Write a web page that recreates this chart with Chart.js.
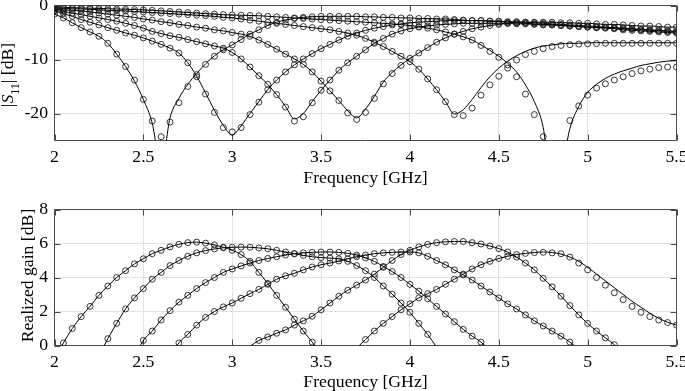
<!DOCTYPE html>
<html>
<head>
<meta charset="utf-8">
<script src="https://cdn.jsdelivr.net/npm/chart.js@4.4.1/dist/chart.umd.min.js"></script>
<style>
  html, body { margin: 0; padding: 0; background: #fff; overflow: hidden; }
  #wrap { position: relative; width: 685px; height: 391px; }
  canvas { position: absolute; left: 0; }
  #s11 { top: 0; }
  #gain { top: 195px; }
</style>
</head>
<body>
<div id="wrap">
  <canvas id="s11" width="685" height="195"></canvas>
  <canvas id="gain" width="685" height="196"></canvas>
</div>
<script>
// frequency grid in GHz, shared by every curve
const freq = [
  2.00, 2.05, 2.10, 2.15, 2.20, 2.25, 2.30, 2.35, 2.40, 2.45,
  2.50, 2.55, 2.60, 2.65, 2.70, 2.75, 2.80, 2.85, 2.90, 2.95,
  3.00, 3.05, 3.10, 3.15, 3.20, 3.25, 3.30, 3.35, 3.40, 3.45,
  3.50, 3.55, 3.60, 3.65, 3.70, 3.75, 3.80, 3.85, 3.90, 3.95,
  4.00, 4.05, 4.10, 4.15, 4.20, 4.25, 4.30, 4.35, 4.40, 4.45,
  4.50, 4.55, 4.60, 4.65, 4.70, 4.75, 4.80, 4.85, 4.90, 4.95,
  5.00, 5.05, 5.10, 5.15, 5.20, 5.25, 5.30, 5.35, 5.40, 5.45,
  5.50
];
const freqTicks = [2, 2.5, 3, 3.5, 4, 4.5, 5, 5.5];
const s11Ticks = [-20, -10, 0];
const gainTicks = [0, 2, 4, 6, 8];

// |S11| in dB, simulated (line) and measured (circles)
const s11A = [
  -1.6, -2.3, -3.2, -4.1, -4.9, -5.7, -7.0, -9.0, -11.3, -14.0,
  -17.4, -21.8, -30, -20.8, -17.2, -14.6, -12.6, -10.8, -9.3, -8.2,
  -7.3, -6.3, -5.3, -4.5, -3.7, -3.1, -2.7, -2.4, -2.2, -2.1,
  -2.0, -2.0, -2.0, -2.0, -2.0, -2.1, -2.1, -2.2, -2.2, -2.3,
  -2.3, -2.4, -2.4, -2.5, -2.5, -2.6, -2.7, -2.8, -2.8, -2.9,
  -3.0, -3.1, -3.2, -3.3, -3.4, -3.5, -3.6, -3.7, -3.8, -3.9,
  -4.0, -4.1, -4.2, -4.3, -4.5, -4.6, -4.7, -4.8, -4.9, -5.0,
  -5.1
];
const s11AMeas = [
  -1.6, -2.3, -3.2, -4.1, -4.9, -5.7, -7.0, -9.0, -11.3, -13.8,
  -17.4, -21.4, -24.3, -21.6, -18.0, -15.0, -12.8, -10.9, -9.4, -8.2,
  -7.3, -6.3, -5.3, -4.5, -3.7, -3.1, -2.7, -2.4, -2.2, -2.1,
  -2.0, -2.0, -2.0, -2.0, -2.0, -2.1, -2.1, -2.2, -2.2, -2.3,
  -2.3, -2.4, -2.4, -2.5, -2.5, -2.6, -2.7, -2.8, -2.8, -2.9,
  -3.0, -3.1, -3.2, -3.3, -3.4, -3.5, -3.6, -3.7, -3.8, -3.9,
  -4.0, -4.1, -4.2, -4.3, -4.5, -4.6, -4.7, -4.8, -4.9, -5.0,
  -5.1
];
const s11B = [
  -1.0, -1.5, -2.0, -2.6, -3.1, -3.6, -4.1, -4.6, -5.1, -5.5,
  -6.0, -6.6, -7.2, -7.9, -8.8, -10.6, -13.1, -16.2, -19.4, -22.2,
  -24.0, -22.3, -20.0, -17.8, -15.6, -13.8, -12.3, -11.0, -9.9, -8.9,
  -8.0, -7.2, -6.4, -5.7, -5.1, -4.6, -4.2, -3.9, -3.6, -3.4,
  -3.2, -3.1, -3.0, -2.9, -2.8, -2.8, -2.8, -2.8, -2.8, -2.9,
  -2.9, -3.0, -3.0, -3.1, -3.2, -3.3, -3.4, -3.5, -3.6, -3.7,
  -3.8, -3.9, -4.0, -4.1, -4.2, -4.3, -4.4, -4.5, -4.6, -4.7,
  -4.8
];
const s11BMeas = [
  -1.0, -1.5, -2.0, -2.6, -3.1, -3.6, -4.1, -4.6, -5.1, -5.5,
  -6.0, -6.6, -7.2, -7.9, -8.8, -10.6, -13.2, -16.4, -19.8, -22.6,
  -23.4, -22.6, -20.2, -17.9, -15.6, -13.8, -12.3, -11.0, -9.9, -8.9,
  -8.0, -7.2, -6.4, -5.7, -5.1, -4.6, -4.2, -3.9, -3.6, -3.4,
  -3.2, -3.1, -3.0, -2.9, -2.8, -2.8, -2.8, -2.8, -2.8, -2.9,
  -2.9, -3.0, -3.0, -3.1, -3.2, -3.3, -3.4, -3.5, -3.6, -3.7,
  -3.8, -3.9, -4.0, -4.1, -4.2, -4.3, -4.4, -4.5, -4.6, -4.7,
  -4.8
];
const s11C = [
  -0.9, -1.1, -1.4, -1.7, -2.0, -2.3, -2.6, -2.9, -3.3, -3.7,
  -4.2, -4.8, -5.2, -5.6, -5.9, -6.3, -6.7, -7.1, -7.5, -7.9,
  -8.7, -9.9, -11.4, -13.0, -14.6, -16.5, -18.7, -21.0, -20.0, -17.8,
  -15.7, -13.8, -12.0, -10.6, -9.4, -8.2, -7.0, -6.1, -5.3, -4.7,
  -4.3, -4.0, -3.8, -3.6, -3.5, -3.4, -3.3, -3.3, -3.3, -3.3,
  -3.3, -3.3, -3.4, -3.4, -3.5, -3.6, -3.6, -3.7, -3.8, -3.9,
  -4.0, -4.1, -4.1, -4.2, -4.3, -4.4, -4.5, -4.6, -4.7, -4.8,
  -4.9
];
const s11CMeas = [
  -0.9, -1.1, -1.4, -1.7, -2.0, -2.3, -2.6, -2.9, -3.3, -3.7,
  -4.2, -4.8, -5.2, -5.6, -5.9, -6.3, -6.7, -7.1, -7.5, -7.9,
  -8.7, -9.9, -11.4, -13.0, -14.6, -16.5, -18.8, -21.4, -20.6, -18.0,
  -15.7, -13.8, -12.0, -10.6, -9.4, -8.2, -7.0, -6.1, -5.3, -4.7,
  -4.3, -4.0, -3.8, -3.6, -3.5, -3.4, -3.3, -3.3, -3.3, -3.3,
  -3.3, -3.3, -3.4, -3.4, -3.5, -3.6, -3.6, -3.7, -3.8, -3.9,
  -4.0, -4.1, -4.1, -4.2, -4.3, -4.4, -4.5, -4.6, -4.7, -4.8,
  -4.9
];
const s11D = [
  -0.7, -0.8, -0.9, -1.0, -1.2, -1.4, -1.6, -1.8, -2.0, -2.2,
  -2.5, -2.7, -3.0, -3.2, -3.5, -3.7, -4.0, -4.2, -4.5, -4.7,
  -5.0, -5.3, -5.7, -6.4, -7.2, -8.1, -9.0, -9.9, -10.9, -12.3,
  -14.0, -15.8, -17.6, -19.5, -20.8, -19.2, -16.8, -14.2, -12.4, -11.0,
  -9.8, -8.8, -7.8, -6.8, -6.0, -5.3, -4.8, -4.3, -4.0, -3.7,
  -3.5, -3.3, -3.2, -3.1, -3.1, -3.1, -3.1, -3.2, -3.2, -3.3,
  -3.3, -3.4, -3.5, -3.5, -3.6, -3.7, -3.8, -3.8, -3.9, -4.0,
  -4.0
];
const s11DMeas = [
  -0.7, -0.8, -0.9, -1.0, -1.2, -1.4, -1.6, -1.8, -2.0, -2.2,
  -2.5, -2.7, -3.0, -3.2, -3.5, -3.7, -4.0, -4.2, -4.5, -4.7,
  -5.0, -5.3, -5.7, -6.4, -7.2, -8.1, -9.0, -9.9, -10.9, -12.3,
  -14.0, -15.8, -17.6, -19.9, -21.1, -19.8, -17.2, -14.5, -12.6, -11.1,
  -9.8, -8.8, -7.8, -6.8, -6.0, -5.3, -4.8, -4.3, -4.0, -3.7,
  -3.5, -3.3, -3.2, -3.1, -3.1, -3.1, -3.1, -3.2, -3.2, -3.3,
  -3.3, -3.4, -3.5, -3.5, -3.6, -3.7, -3.8, -3.8, -3.9, -4.0,
  -4.0
];
const s11E = [
  -0.5, -0.55, -0.6, -0.65, -0.7, -0.8, -0.9, -0.95, -1.0, -1.1,
  -1.2, -1.3, -1.4, -1.5, -1.6, -1.7, -1.8, -1.9, -2.0, -2.2,
  -2.3, -2.5, -2.7, -2.9, -3.1, -3.3, -3.5, -3.7, -3.9, -4.1,
  -4.3, -4.5, -4.8, -5.1, -5.5, -6.1, -6.8, -7.6, -8.5, -9.4,
  -10.4, -11.8, -13.6, -15.6, -17.8, -20.1, -19.3, -17.4, -15.2, -13.2,
  -11.6, -10.3, -9.3, -8.5, -7.9, -7.5, -7.3, -7.1, -7.0, -7.0,
  -6.9, -6.9, -6.9, -6.9, -6.9, -6.9, -6.9, -6.9, -6.9, -6.9,
  -6.9
];
const s11EMeas = [
  -0.5, -0.55, -0.6, -0.65, -0.7, -0.8, -0.9, -0.95, -1.0, -1.1,
  -1.2, -1.3, -1.4, -1.5, -1.6, -1.7, -1.8, -1.9, -2.0, -2.2,
  -2.3, -2.5, -2.7, -2.9, -3.1, -3.3, -3.5, -3.7, -3.9, -4.1,
  -4.3, -4.5, -4.8, -5.1, -5.5, -6.1, -6.8, -7.6, -8.5, -9.4,
  -10.4, -11.8, -13.6, -15.6, -17.8, -20.2, -20.4, -19.0, -16.6, -14.7,
  -13.1, -11.6, -10.1, -9.1, -8.5, -8.0, -7.6, -7.4, -7.25, -7.15,
  -7.1, -7.05, -7.0, -7.0, -7.0, -7.0, -7.0, -7.0, -7.0, -7.0,
  -7.0
];
const s11F = [
  -0.3, -0.35, -0.4, -0.45, -0.5, -0.55, -0.6, -0.65, -0.7, -0.75,
  -0.8, -0.9, -1.0, -1.1, -1.2, -1.3, -1.4, -1.5, -1.6, -1.7,
  -1.75, -1.8, -1.85, -1.9, -2.0, -2.1, -2.2, -2.3, -2.4, -2.5,
  -2.6, -2.7, -2.8, -2.9, -3.0, -3.1, -3.2, -3.3, -3.4, -3.55,
  -3.7, -3.9, -4.2, -4.5, -4.9, -5.3, -5.8, -6.4, -7.3, -8.3,
  -9.4, -10.7, -12.3, -14.7, -17.8, -22.6, -34, -31, -22.8, -18.7,
  -16.1, -14.6, -13.5, -12.7, -12.1, -11.6, -11.1, -10.8, -10.5, -10.3,
  -10.2
];
const s11FMeas = [
  -0.3, -0.35, -0.4, -0.45, -0.5, -0.55, -0.6, -0.65, -0.7, -0.75,
  -0.8, -0.9, -1.0, -1.1, -1.2, -1.3, -1.4, -1.5, -1.6, -1.7,
  -1.75, -1.8, -1.85, -1.9, -2.0, -2.1, -2.2, -2.3, -2.4, -2.5,
  -2.6, -2.7, -2.8, -2.9, -3.0, -3.1, -3.2, -3.3, -3.4, -3.55,
  -3.7, -3.9, -4.2, -4.5, -4.9, -5.3, -5.8, -6.4, -7.4, -8.5,
  -9.6, -11.0, -13.2, -16.4, -20.2, -24.3, null, null, -21.3, -18.6,
  -16.6, -15.3, -14.5, -13.8, -13.2, -12.6, -12.1, -11.8, -11.5, -11.4,
  -11.4
];

// realized gain in dB; each curve starts at freq[start]
const gainStart = [0, 5, 9, 13, 22, 34];
const gain1 = [
  -0.8, 0.15, 1.0, 1.7, 2.3, 2.95, 3.5, 4.0, 4.4, 4.8,
  5.1, 5.4, 5.6, 5.8, 5.95, 6.05, 6.08, 6.02, 5.92, 5.78,
  5.6, 5.35, 4.95, 4.3, 3.65, 2.95, 2.25, 1.55, 0.85, 0.2,
  -0.5
];
const gain2 = [
  -0.6, 0.4, 1.3, 2.15, 2.8, 3.35, 3.9, 4.3, 4.7, 5.0,
  5.25, 5.45, 5.58, 5.68, 5.75, 5.78, 5.79, 5.78, 5.74, 5.69,
  5.6, 5.5, 5.4, 5.3, 5.22, 5.17, 5.14, 5.1, 4.95, 4.7,
  4.4, 4.0, 3.5, 3.02, 2.5, 1.95, 1.3, 0.65, -0.1
];
const gain3 = [
  -0.7, 0.3, 0.85, 1.5, 2.05, 2.55, 2.95, 3.35, 3.7, 4.0,
  4.3, 4.5, 4.68, 4.85, 5.0, 5.12, 5.22, 5.32, 5.4, 5.45,
  5.48, 5.5, 5.5, 5.48, 5.42, 5.32, 5.15, 4.95, 4.65, 4.35,
  4.0, 3.6, 3.2, 2.75, 2.3, 1.85, 1.4, 0.95, 0.55, 0.2,
  -0.3
];
const gain4 = [
  -0.7, 0.15, 0.65, 1.2, 1.65, 2.0, 2.27, 2.5, 2.78, 3.05,
  3.3, 3.6, 3.9, 4.1, 4.25, 4.45, 4.62, 4.75, 4.85, 4.97,
  5.1, 5.22, 5.32, 5.4, 5.45, 5.48, 5.5, 5.5, 5.45, 5.25,
  5.0, 4.75, 4.45, 4.15, 3.85, 3.5, 3.15, 2.8, 2.45, 2.15,
  1.8, 1.45, 1.15, 0.85, 0.55, 0.2, -0.2
];
const gain5 = [
  -0.05, 0.3, 0.5, 0.72, 0.92, 1.2, 1.45, 1.72, 2.1, 2.5,
  2.9, 3.25, 3.55, 3.85, 4.2, 4.6, 5.0, 5.35, 5.6, 5.8,
  5.95, 6.05, 6.1, 6.12, 6.12, 6.05, 5.97, 5.85, 5.7, 5.5,
  5.2, 4.85, 4.45, 3.95, 3.45, 2.9, 2.35, 1.8, 1.3, 0.85,
  0.45, 0.05, -0.4
];
const gain6 = [
  -0.15, 0.35, 0.85, 1.3, 1.7, 2.1, 2.45, 2.8, 3.05, 3.3,
  3.6, 3.9, 4.2, 4.5, 4.75, 4.95, 5.12, 5.25, 5.35, 5.42,
  5.47, 5.5, 5.47, 5.38, 5.2, 4.95, 4.6, 4.2, 3.8, 3.4,
  3.0, 2.6, 2.25, 1.9, 1.6, 1.37, 1.2
];
const gain6Meas = [
  null, 0.35, 0.85, 1.3, 1.7, 2.1, 2.45, 2.8, 3.05, 3.3,
  3.6, 3.9, 4.2, 4.5, 4.75, 4.95, 5.12, 5.25, 5.35, 5.42,
  5.47, 5.48, 5.45, 5.4, 5.2, 4.85, 4.45, 4.0, 3.55, 3.1,
  2.7, 2.3, 1.95, 1.7, 1.5, 1.35, 1.2
];

const serif = '"Liberation Serif", "Times New Roman", serif';
Chart.defaults.font.family = serif;
Chart.defaults.font.size = 17.7;
Chart.defaults.color = '#000';
Chart.defaults.animation = false;

function pts(vals, start) {
  return vals.map((v, i) => ({ x: freq[start + i], y: v }));
}

function simLine(vals, start) {
  return {
    data: pts(vals, start),
    borderColor: '#000',
    borderWidth: 1,
    pointRadius: 0,
    cubicInterpolationMode: 'monotone',
    clip: 0
  };
}

function measDots(vals, start) {
  return {
    data: pts(vals, start).filter(p => p.y !== null),
    showLine: false,
    pointStyle: 'circle',
    pointRadius: 3,
    pointBorderWidth: 0.9,
    pointBorderColor: '#222',
    pointBackgroundColor: 'rgba(0,0,0,0)',
    clip: 0
  };
}

// box around the plot with short inward ticks (matlab style)
const frame = {
  id: 'frame',
  beforeDatasetsDraw(chart) {
    const { ctx, chartArea: a, scales } = chart;
    ctx.save();
    ctx.strokeStyle = '#4a4a4a';
    ctx.lineWidth = 1;
    ctx.beginPath();
    scales.x.ticks.forEach(t => {
      const px = Math.round(scales.x.getPixelForValue(t.value)) + 0.5;
      ctx.moveTo(px, a.bottom); ctx.lineTo(px, a.bottom - 6);
      ctx.moveTo(px, a.top); ctx.lineTo(px, a.top + 6);
    });
    scales.y.ticks.forEach(t => {
      const py = Math.round(scales.y.getPixelForValue(t.value)) + 0.5;
      ctx.moveTo(a.left, py); ctx.lineTo(a.left + 6, py);
      ctx.moveTo(a.right, py); ctx.lineTo(a.right - 6, py);
    });
    ctx.rect(a.left, a.top, a.right - a.left, a.bottom - a.top);
    ctx.stroke();
    ctx.restore();
  }
};

// rotated y label made of pieces (for the italic S and the subscript)
function yLabel(id, parts, bx, cy) {
  return {
    id: id,
    afterDraw(chart) {
      const ctx = chart.ctx;
      ctx.save();
      let w = 0;
      parts.forEach(p => { ctx.font = p[1]; w += ctx.measureText(p[0]).width; });
      ctx.translate(bx, cy);
      ctx.rotate(-Math.PI / 2);
      ctx.fillStyle = '#000';
      ctx.textBaseline = 'alphabetic';
      let x = -w / 2;
      parts.forEach(p => {
        ctx.font = p[1];
        ctx.fillText(p[0], x, p[2]);
        x += ctx.measureText(p[0]).width;
      });
      ctx.restore();
    }
  };
}

const s11Label = yLabel('s11Label', [
  ['|', '17.7px ' + serif, 0],
  ['S', 'italic 17.7px ' + serif, 0],
  ['11', '12px ' + serif, 6.5],
  ['| [dB]', '17.7px ' + serif, 0]
], 12.5, 75);

const gainLabel = yLabel('gainLabel', [
  ['Realized gain [dB]', '17.7px ' + serif, 0]
], 33.3, 80.5);

function xAxis(h, titlePad) {
  return {
    type: 'linear', min: 2, max: 5.5,
    afterBuildTicks: s => { s.ticks = freqTicks.map(v => ({ value: v })); },
    afterFit: s => { s.height = h; s.paddingLeft = 0; s.paddingRight = 0; },
    grid: { color: '#e2e2e2', drawTicks: false },
    border: { display: false },
    ticks: { padding: 6.3, maxRotation: 0, autoSkip: false, callback: v => String(v) },
    title: { display: true, text: 'Frequency [GHz]', padding: { top: 0, bottom: titlePad } }
  };
}

function yAxis(min, max, tickVals) {
  return {
    min: min, max: max,
    afterBuildTicks: s => { s.ticks = tickVals.map(v => ({ value: v })); },
    afterFit: s => { s.width = 54.5; s.paddingTop = 0; s.paddingBottom = 0; },
    grid: { color: '#e2e2e2', drawTicks: false },
    border: { display: false },
    ticks: { padding: 6.5, autoSkip: false, callback: v => String(v) }
  };
}

const common = {
  responsive: false,
  events: [],
  plugins: { legend: { display: false }, tooltip: { enabled: false } }
};

// top: reflection coefficient
const s11Sets = [];
[[s11A, s11AMeas], [s11B, s11BMeas], [s11C, s11CMeas],
 [s11D, s11DMeas], [s11E, s11EMeas], [s11F, s11FMeas]].forEach(c => {
  s11Sets.push(simLine(c[0], 0));
  s11Sets.push(measDots(c[1], 0));
});

new Chart(document.getElementById('s11'), {
  type: 'line',
  data: { datasets: s11Sets },
  options: Object.assign({}, common, {
    layout: { padding: { left: 0, top: 5.5, right: 8.5, bottom: 0 } },
    scales: {
      x: xAxis(54.5, 6.5),
      y: yAxis(-25, 0, s11Ticks)
    }
  }),
  plugins: [frame, s11Label]
});

// bottom: realized gain
const gainSets = [];
[gain1, gain2, gain3, gain4, gain5, gain6].forEach((g, k) => {
  gainSets.push(simLine(g, gainStart[k]));
  const dots = k === 5 ? gain6Meas : g.map(v => (v !== null && v >= 0 ? v : null));
  gainSets.push(measDots(dots, gainStart[k]));
});

new Chart(document.getElementById('gain'), {
  type: 'line',
  data: { datasets: gainSets },
  options: Object.assign({}, common, {
    layout: { padding: { left: 0, top: 14.5, right: 8.5, bottom: 0 } },
    scales: {
      x: xAxis(45.5, -1.5),
      y: yAxis(0, 8, gainTicks)
    }
  }),
  plugins: [frame, gainLabel]
});
</script>
</body>
</html>
